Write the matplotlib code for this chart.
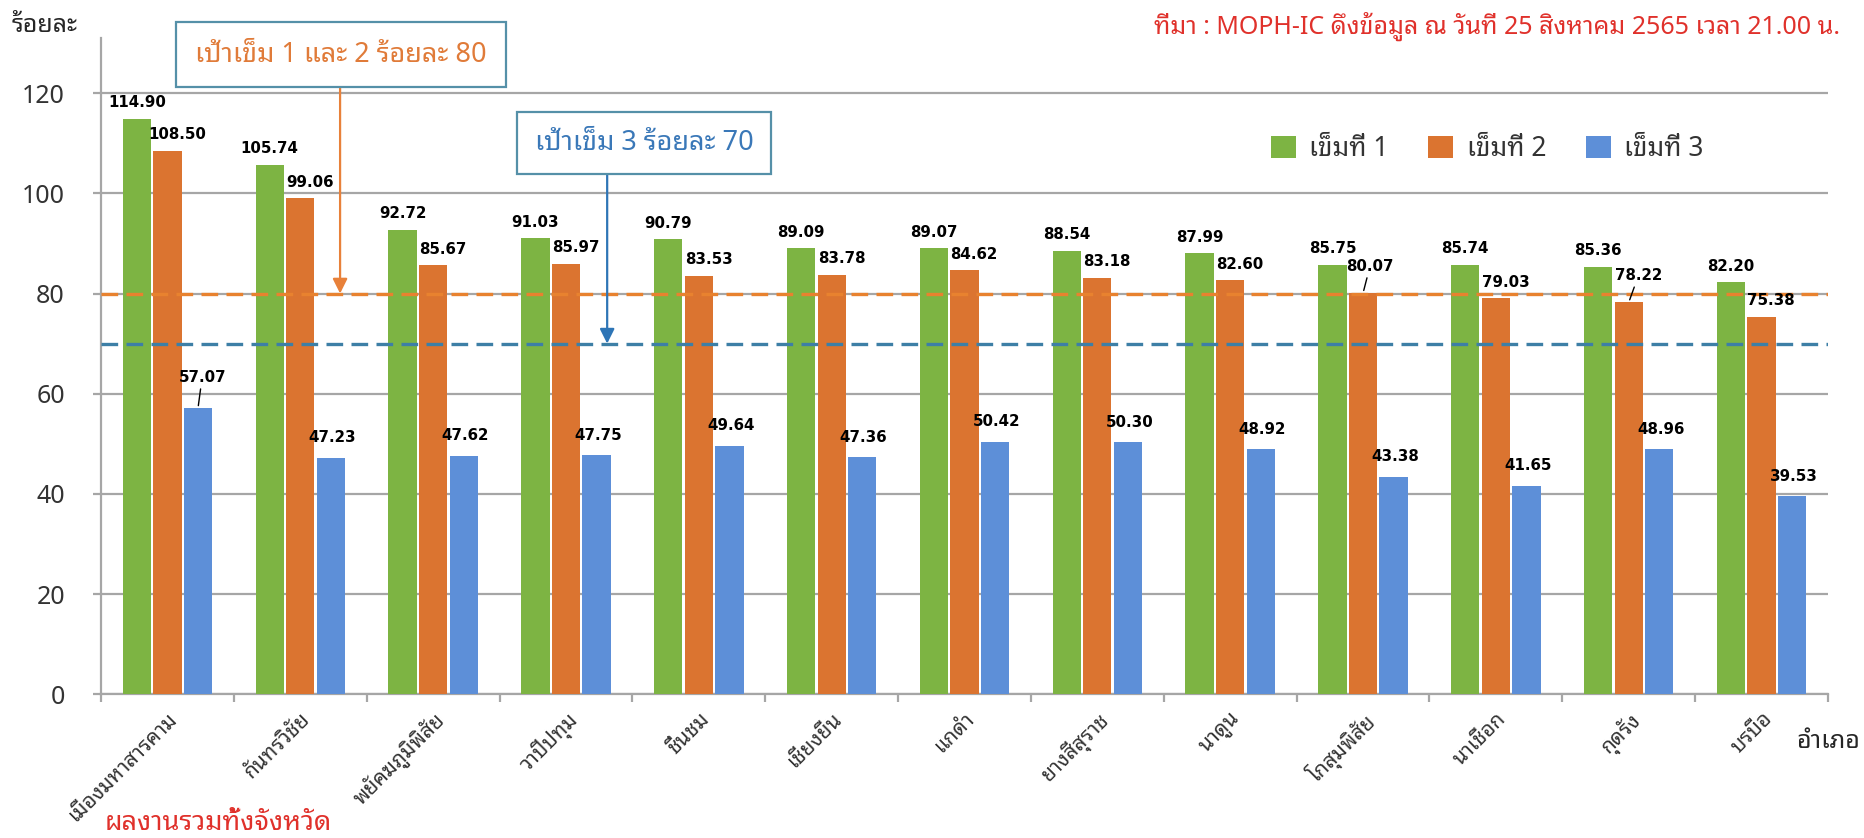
import matplotlib
matplotlib.use("Agg")
import matplotlib.pyplot as plt
import numpy as np
from matplotlib import font_manager as fm
from matplotlib.patches import Rectangle, Patch

# ---- data -------------------------------------------------------------
districts = ['เมืองมหาสารคาม', 'กันทรวิชัย', 'พยัคฆภูมิพิสัย', 'วาปีปทุม', 'ชื่นชม',
             'เชียงยืน', 'แกดำ', 'ยางสีสุราช', 'นาดูน', 'โกสุมพิสัย', 'นาเชือก',
             'กุดรัง', 'บรบือ']
dose1 = [114.90, 105.74, 92.72, 91.03, 90.79, 89.09, 89.07, 88.54, 87.99, 85.75, 85.74, 85.36, 82.20]
dose2 = [108.50, 99.06, 85.67, 85.97, 83.53, 83.78, 84.62, 83.18, 82.60, 80.07, 79.03, 78.22, 75.38]
dose3 = [57.07, 47.23, 47.62, 47.75, 49.64, 47.36, 50.42, 50.30, 48.92, 43.38, 41.65, 48.96, 39.53]
series_names = ['เข็มที่ 1', 'เข็มที่ 2', 'เข็มที่ 3']
target_12 = 80
target_3 = 70
yticks = [0, 20, 40, 60, 80, 100, 120]

# ---- fonts ------------------------------------------------------------
avail = {f.name for f in fm.fontManager.ttflist}
thai = 'DejaVu Sans'
for cand in ['Noto Sans Thai Looped', 'Noto Sans Thai', 'Sarabun',
             'IBM Plex Sans Thai Looped', 'Anuphan']:
    if cand in avail:
        thai = cand
        break
TH = [thai, 'DejaVu Sans']
plt.rcParams['font.family'] = TH
MID = 'medium'

W, H = 1865, 838
fig = plt.figure(figsize=(W / 100, H / 100), dpi=100)


def fx(px):
    return px / W


def fy(py):
    return 1 - py / H


ax_l, ax_r, ax_b, ax_t = 101, 1828, 694.3, 38
ax = fig.add_axes([fx(ax_l), fy(ax_b), (ax_r - ax_l) / W, (ax_b - ax_t) / H])

colors = ['#7DB443', '#DB7430', '#5D8FD8']
gray = '#A6A6A6'
text_gray = '#333333'

x = np.arange(len(districts))
step = 0.23
width = 0.213
series = [dose1, dose2, dose3]
for i, (vals, c) in enumerate(zip(series, colors)):
    ax.bar(x + (i - 1) * step, vals, width=width, color=c, zorder=3)

ax.set_xlim(-0.5, len(districts) - 0.5)
ax.set_ylim(0, 131)
ax.set_yticks(yticks)
ax.set_yticklabels([str(v) for v in yticks], fontsize=18, color=text_gray,
                   fontweight=MID)
ax.yaxis.grid(True, color=gray, linewidth=1.6, zorder=0)
ax.set_axisbelow(True)
for s in ['top', 'right']:
    ax.spines[s].set_visible(False)
for s in ['left', 'bottom']:
    ax.spines[s].set_color(gray)
    ax.spines[s].set_linewidth(1.6)
ax.tick_params(axis='y', length=6, width=1.6, color=gray, pad=20)

ax.set_xticks(x)
ax.set_xticklabels(districts, rotation=45, ha='right', va='top',
                   rotation_mode='anchor', fontsize=15, color=text_gray,
                   fontweight=MID)
ax.tick_params(axis='x', which='major', length=0, pad=10)
ax.set_xticks(np.arange(-0.5, len(districts), 1.0), minor=True)
ax.tick_params(axis='x', which='minor', length=6, width=1.6, color=gray)

# target lines
ax.axhline(target_12, color='#E8822F', lw=2.4, dashes=(5, 2.5), zorder=4)
ax.axhline(target_3, color='#3D7FA6', lw=2.4, dashes=(5, 2.5), zorder=4)

# value labels
lbl_kw = dict(textcoords='offset points', ha='center', va='bottom',
              fontsize=10.8, fontweight='bold', family='DejaVu Sans',
              color='black', zorder=6)
leader = dict(arrowstyle='-', color='black', lw=1.0, shrinkA=1, shrinkB=2)
shift = [(0, 6), (7, 6), (1, 9)]
special = {(2, 0): (3, 17), (1, 9): (5, 14), (1, 11): (7, 14)}
for i, vals in enumerate(series):
    for j, v in enumerate(vals):
        xi = x[j] + (i - 1) * step
        off = special.get((i, j), shift[i])
        kw = dict(lbl_kw)
        if (i, j) in special:
            kw['arrowprops'] = leader
        ax.annotate(f'{v:.2f}', xy=(xi, v), xytext=off, **kw)

# callout boxes with arrows pointing to the target lines
box_edge = '#5590A8'
boxes = [
    ((176, 22, 506, 87), 'เป้าเข็ม 1 และ 2 ร้อยละ 80', '#E07B39', 340, target_12, '#E8813A'),
    ((517, 112, 771, 174), 'เป้าเข็ม 3 ร้อยละ 70', '#3A78B8', 607, target_3, '#2E75B6'),
]
for (x0, y0, x1, y1), txt, tc, ax_px, tgt, ac in boxes:
    fig.add_artist(Rectangle((fx(x0), fy(y1)), fx(x1) - fx(x0), fy(y0) - fy(y1),
                             transform=fig.transFigure, fill=True, facecolor='white',
                             edgecolor=box_edge, linewidth=1.6, zorder=10))
    fig.text(fx((x0 + x1) / 2), fy((y0 + y1) / 2), txt, ha='center', va='center',
             fontsize=19.5, color=tc, zorder=11, fontweight=MID)
    xd = (ax_px - ax_l) / 132.8 - 0.5
    yd = (ax_b - y1) / 5.013
    ax.annotate('', xy=(xd, tgt), xytext=(xd, yd), xycoords='data',
                arrowprops=dict(arrowstyle='-|>', color=ac, lw=1.6,
                                mutation_scale=22, shrinkA=0, shrinkB=0),
                annotation_clip=False, zorder=9)

# legend
handles = [Patch(facecolor=c, edgecolor='none') for c in colors]
leg = ax.legend(handles, series_names, ncol=3, frameon=False,
                prop=dict(size=19, weight=MID, family=TH),
                loc='center left', bbox_to_anchor=(fx(1271), fy(149)),
                bbox_transform=fig.transFigure, borderpad=0, borderaxespad=0,
                handlelength=0.95, handleheight=0.95, handletextpad=0.5,
                columnspacing=1.5, labelcolor=text_gray)

# header and footer texts
fig.text(fx(12), fy(26), 'ร้อยละ', ha='left', va='center', fontsize=18,
         fontweight='bold', color='#262626')
fig.text(fx(1840), fy(26), 'ที่มา : MOPH-IC ดึงข้อมูล ณ วันที่ 25 สิงหาคม 2565 เวลา 21.00 น.',
         ha='right', va='center', fontsize=18, color='#E0312B', fontweight=MID)
fig.text(fx(1796), fy(742), 'อำเภอ', ha='left', va='center', fontsize=18,
         color='#262626', fontweight=MID)
fig.text(fx(105), fy(823), 'ผลงานรวมทั้งจังหวัด', ha='left', va='center',
         fontsize=19.5, fontweight='bold', color='#E0312B')

fig.savefig('out.png', dpi=100, facecolor='white')
